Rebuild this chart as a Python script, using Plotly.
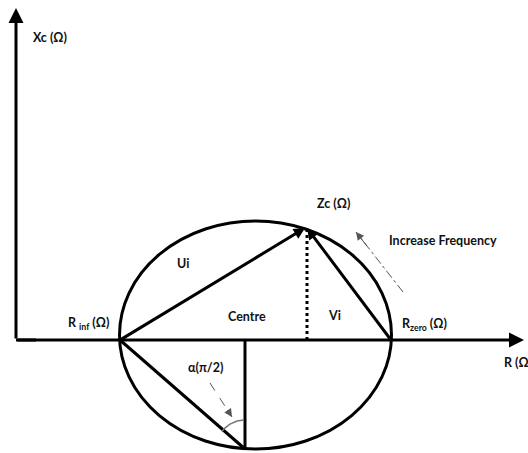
import numpy as np
import plotly.graph_objects as go

# Cole impedance locus: resistance R (Ω) on x, reactance Xc (Ω) on y
R_inf = 120.0
R_zero = 391.0
Zc_R, Zc_X = 305.0, 112.0

locus_centre_R, locus_centre_X = 255.5, 5.0
locus_semi_R, locus_semi_X = 136.0, 114.0

centre_drop_R = 245.0            # R of the vertical radius below the axis
centre_drop_X = -109.0           # lowest point of the locus

r_axis = [16.0, 524.0]           # R axis extent
x_axis = [0.0, 332.0]            # Xc axis extent

freq_arrow_tail = (403.0, 48.0)
freq_arrow_head = (356.0, 108.0)
alpha_arrow_tail = (210.0, -43.0)
alpha_arrow_head = (232.0, -77.0)
alpha_arc_radius = 29.0
alpha_arc_deg = [93.0, 143.0]

labels = ["Xc (Ω)", "Zc (Ω)", "Increase Frequency", "Ui", "Centre", "Vi",
          "R <sub>inf</sub> (Ω)", "R<sub>zero</sub> (Ω)", "R (Ω)", "α(π/2)"]
label_R = [50, 333, 443, 183, 247, 334, 88, 424, 502, 205]
label_X = [303, 137, 100, 77, 24, 25, 17, 16, -22, -27]

BLACK = "#000000"
GREY = "#555555"
FONT = "Lato, 'Open Sans', sans-serif"

fig = go.Figure()

# straight segments
segments = [
    ([R_inf, centre_drop_R], [0, centre_drop_X]),
    ([centre_drop_R, centre_drop_R], [0, centre_drop_X]),
]
for xs, ys in segments:
    fig.add_trace(go.Scatter(x=xs, y=ys, mode="lines",
                             line=dict(color=BLACK, width=3),
                             hoverinfo="skip", showlegend=False))

# dotted projection of Zc on the R axis
fig.add_trace(go.Scatter(x=[Zc_R + 2, Zc_R + 2], y=[0, Zc_X - 2], mode="lines",
                         line=dict(color=BLACK, width=3, dash="dot"),
                         hoverinfo="skip", showlegend=False))

# alpha angle arc at the bottom of the locus
t = np.radians(np.linspace(alpha_arc_deg[0], alpha_arc_deg[1], 40))
fig.add_trace(go.Scatter(x=centre_drop_R + alpha_arc_radius * np.cos(t),
                         y=centre_drop_X + alpha_arc_radius * np.sin(t),
                         mode="lines", line=dict(color="#777777", width=1.5),
                         hoverinfo="skip", showlegend=False))

# the locus itself
fig.add_shape(type="circle", xref="x", yref="y",
              x0=locus_centre_R - locus_semi_R, x1=locus_centre_R + locus_semi_R,
              y0=locus_centre_X - locus_semi_X, y1=locus_centre_X + locus_semi_X,
              line=dict(color=BLACK, width=3), layer="above")


def arrow(tail, head, color=BLACK, width=3, size=1.0, head_style=2):
    fig.add_annotation(x=head[0], y=head[1], ax=tail[0], ay=tail[1],
                       xref="x", yref="y", axref="x", ayref="y",
                       text="", showarrow=True, arrowhead=head_style,
                       arrowsize=size, arrowwidth=width, arrowcolor=color)


# axes
arrow((r_axis[0], 0), (r_axis[1], 0), size=1.0)
arrow((r_axis[0], x_axis[0]), (r_axis[0], x_axis[1]), size=1.0)
fig.add_trace(go.Scatter(x=[r_axis[0], r_axis[0] + 20], y=[0, 0], mode="lines",
                         line=dict(color=BLACK, width=3),
                         hoverinfo="skip", showlegend=False))

# Ui and Vi vectors
arrow((R_inf, 0), (Zc_R, Zc_X), size=0.75)
arrow((R_zero, 0), (Zc_R + 2, Zc_X), size=0.75)

# thin dashed pointer arrows
fig.add_trace(go.Scatter(x=[freq_arrow_tail[0], freq_arrow_head[0]],
                         y=[freq_arrow_tail[1], freq_arrow_head[1]], mode="lines",
                         line=dict(color=GREY, width=1, dash="dashdot"),
                         hoverinfo="skip", showlegend=False))
arrow(((freq_arrow_tail[0] + 3 * freq_arrow_head[0]) / 4,
       (freq_arrow_tail[1] + 3 * freq_arrow_head[1]) / 4),
      freq_arrow_head, color=GREY, width=1, size=1.6)
fig.add_trace(go.Scatter(x=[alpha_arrow_tail[0], alpha_arrow_head[0]],
                         y=[alpha_arrow_tail[1], alpha_arrow_head[1]], mode="lines",
                         line=dict(color=GREY, width=1, dash="dash"),
                         hoverinfo="skip", showlegend=False))
arrow(((alpha_arrow_tail[0] + 3 * alpha_arrow_head[0]) / 4,
       (alpha_arrow_tail[1] + 3 * alpha_arrow_head[1]) / 4),
      alpha_arrow_head, color=GREY, width=1, size=1.6)

# text labels
for txt, lx, ly in zip(labels, label_R, label_X):
    anchor = "left" if txt.startswith("R (") else "center"
    fig.add_annotation(x=lx, y=ly, xref="x", yref="y", text=f"<b>{txt}</b>",
                       showarrow=False, xanchor=anchor, yanchor="middle",
                       font=dict(family=FONT, size=12.5, color="#111111"))

fig.update_layout(
    width=528, height=453,
    margin=dict(l=0, r=0, t=0, b=0),
    paper_bgcolor="white", plot_bgcolor="white",
    xaxis=dict(range=[0, 528], visible=False, fixedrange=True),
    yaxis=dict(range=[-113, 340], visible=False, fixedrange=True),
    showlegend=False,
)

fig.write_html("out.html")
